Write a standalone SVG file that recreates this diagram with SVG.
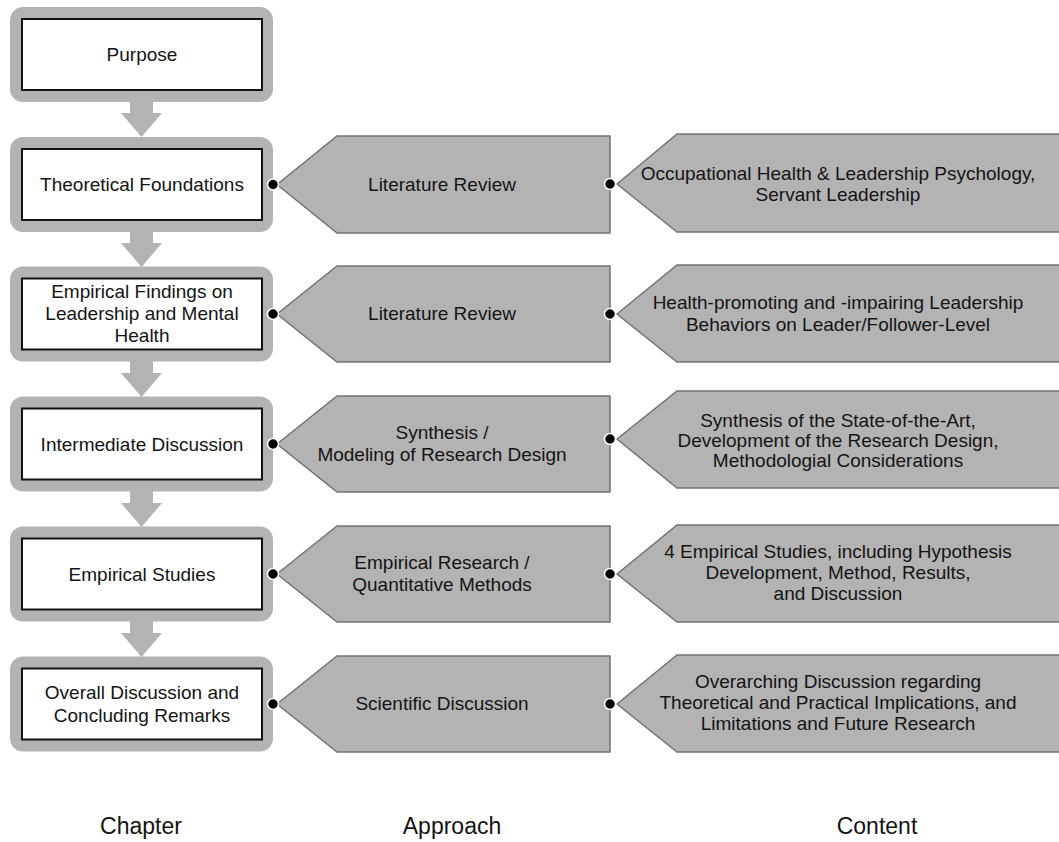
<svg xmlns="http://www.w3.org/2000/svg" width="1059" height="842" viewBox="0 0 1059 842">
<style>
.outer{fill:#b3b3b3;stroke:none}
.inner{fill:#ffffff;stroke:#111111;stroke-width:2}
.pent{fill:#b3b3b3;stroke:#737373;stroke-width:1.5}
.arrow{fill:#b3b3b3;stroke:none}
.dot{fill:#000000;stroke:#ffffff;stroke-width:1.5}
text{font-family:"Liberation Sans",Arial,Helvetica,sans-serif;font-size:19px;fill:#141414;text-anchor:middle}
.foot{font-size:23px}
</style>
<rect width="1059" height="842" fill="#ffffff"/>

<!-- Chapter nodes -->
<g id="ch-purpose">
<rect class="outer" x="10" y="7" width="263" height="95" rx="13"/>
<rect class="inner" x="22" y="19" width="240" height="71"/>
<text x="142" y="61">Purpose</text>
</g>
<g id="ch-theoretical">
<rect class="outer" x="10" y="137" width="263" height="95" rx="13"/>
<rect class="inner" x="22" y="149" width="240" height="71"/>
<text x="142" y="191">Theoretical Foundations</text>
</g>
<g id="ch-empirical-findings">
<rect class="outer" x="10" y="266.5" width="263" height="95" rx="13"/>
<rect class="inner" x="22" y="278.5" width="240" height="71"/>
<text x="142" y="298">Empirical Findings on</text>
<text x="142" y="320">Leadership and Mental</text>
<text x="142" y="342">Health</text>
</g>
<g id="ch-intermediate">
<rect class="outer" x="10" y="396.5" width="263" height="95" rx="13"/>
<rect class="inner" x="22" y="408.5" width="240" height="71"/>
<text x="142" y="451">Intermediate Discussion</text>
</g>
<g id="ch-empirical-studies">
<rect class="outer" x="10" y="526.5" width="263" height="95" rx="13"/>
<rect class="inner" x="22" y="538.5" width="240" height="71"/>
<text x="142" y="581">Empirical Studies</text>
</g>
<g id="ch-overall">
<rect class="outer" x="10" y="656.5" width="263" height="95" rx="13"/>
<rect class="inner" x="22" y="668.5" width="240" height="71"/>
<text x="142" y="699">Overall Discussion and</text>
<text x="142" y="722">Concluding Remarks</text>
</g>

<!-- Approach nodes -->
<g id="ap-1">
<polygon class="pent" points="277,184.5 337,136 610,136 610,233 337,233"/>
<text x="442" y="191">Literature Review</text>
</g>
<g id="ap-2">
<polygon class="pent" points="277,314 337,266 610,266 610,362 337,362"/>
<text x="442" y="320">Literature Review</text>
</g>
<g id="ap-3">
<polygon class="pent" points="277,444 337,396 610,396 610,492 337,492"/>
<text x="442" y="439">Synthesis /</text>
<text x="442" y="461">Modeling of Research Design</text>
</g>
<g id="ap-4">
<polygon class="pent" points="277,574 337,526 610,526 610,622 337,622"/>
<text x="442" y="569">Empirical Research /</text>
<text x="442" y="591">Quantitative Methods</text>
</g>
<g id="ap-5">
<polygon class="pent" points="277,704 337,656 610,656 610,752 337,752"/>
<text x="442" y="710">Scientific Discussion</text>
</g>

<!-- Content nodes -->
<g id="ct-1">
<polygon class="pent" points="617,184 677,134 1062,134 1062,232 677,232"/>
<text x="838" y="180">Occupational Health &amp; Leadership Psychology,</text>
<text x="838" y="201">Servant Leadership</text>
</g>
<g id="ct-2">
<polygon class="pent" points="617,314 677,265 1062,265 1062,362 677,362"/>
<text x="838" y="309">Health-promoting and -impairing Leadership</text>
<text x="838" y="331">Behaviors on Leader/Follower-Level</text>
</g>
<g id="ct-3">
<polygon class="pent" points="617,439 677,391 1062,391 1062,488 677,488"/>
<text x="838" y="427">Synthesis of the State-of-the-Art,</text>
<text x="838" y="447">Development of the Research Design,</text>
<text x="838" y="467">Methodologial Considerations</text>
</g>
<g id="ct-4">
<polygon class="pent" points="617,574 677,525 1062,525 1062,622 677,622"/>
<text x="838" y="558">4 Empirical Studies, including Hypothesis</text>
<text x="838" y="579">Development, Method, Results,</text>
<text x="838" y="600">and Discussion</text>
</g>
<g id="ct-5">
<polygon class="pent" points="617,704 677,655 1062,655 1062,752 677,752"/>
<text x="838" y="688">Overarching Discussion regarding</text>
<text x="838" y="709">Theoretical and Practical Implications, and</text>
<text x="838" y="730">Limitations and Future Research</text>
</g>

<!-- Connectors -->
<g id="connectors">
<polygon class="arrow" points="130,101 153,101 153,113 162,113 141.5,137 121,113 130,113"/>
<polygon class="arrow" points="130,231 153,231 153,243 162,243 141.5,267 121,243 130,243"/>
<polygon class="arrow" points="130,361 153,361 153,373 162,373 141.5,397 121,373 130,373"/>
<polygon class="arrow" points="130,491 153,491 153,503 162,503 141.5,527 121,503 130,503"/>
<polygon class="arrow" points="130,621 153,621 153,633 162,633 141.5,657 121,633 130,633"/>
<circle class="dot" cx="273" cy="184.5" r="5.5"/>
<circle class="dot" cx="273" cy="314" r="5.5"/>
<circle class="dot" cx="273" cy="444" r="5.5"/>
<circle class="dot" cx="273" cy="574" r="5.5"/>
<circle class="dot" cx="273" cy="704" r="5.5"/>
<circle class="dot" cx="610" cy="184" r="5.5"/>
<circle class="dot" cx="610" cy="314" r="5.5"/>
<circle class="dot" cx="610" cy="439" r="5.5"/>
<circle class="dot" cx="610" cy="574" r="5.5"/>
<circle class="dot" cx="610" cy="704" r="5.5"/>
</g>

<!-- Column labels -->
<text class="foot" x="141" y="834">Chapter</text>
<text class="foot" x="452" y="834">Approach</text>
<text class="foot" x="877" y="834">Content</text>
</svg>
